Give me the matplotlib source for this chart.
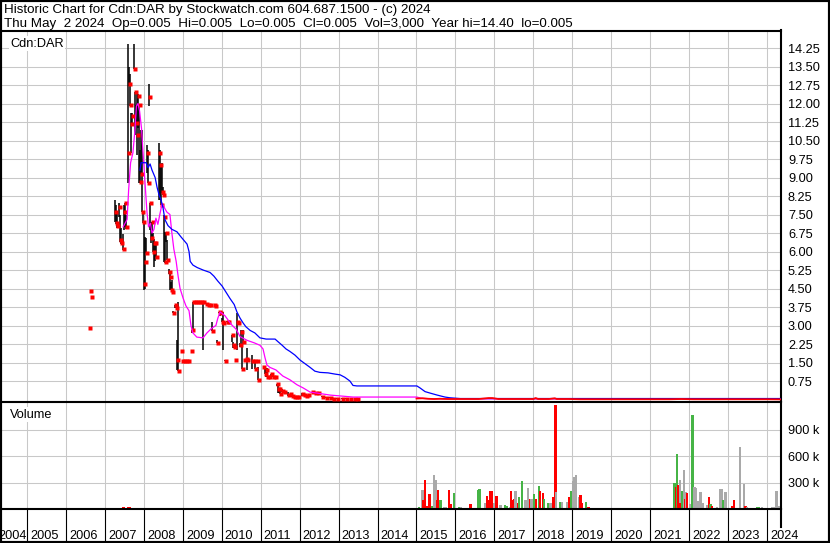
import numpy as np
import matplotlib.pyplot as plt
from matplotlib.patches import Rectangle

plt.rcParams['font.family'] = ['Liberation Sans', 'DejaVu Sans']

# weekly bars as (decimal year, high, low, close)
bars_2006 = [(2006.59, 2.90, 2.90, 2.90), (2006.62, 4.40, 4.40, 4.40), (2006.64, 4.15, 4.15, 4.15)]
bars_2007 = [
    (2007.26, 8.09, 7.20, 7.60), (2007.29, 7.90, 7.10, 7.17), (2007.31, 7.60, 6.95, 7.03),
    (2007.36, 7.96, 7.40, 7.80), (2007.39, 7.50, 6.40, 6.47), (2007.41, 6.95, 6.30, 6.34),
    (2007.47, 6.70, 6.05, 6.10), (2007.49, 7.88, 6.87, 7.60), (2007.52, 7.96, 7.00, 7.96),
    (2007.54, 7.50, 6.90, 7.00), (2007.59, 14.41, 8.78, 9.99), (2007.62, 13.50, 12.70, 12.79),
    (2007.65, 13.20, 11.90, 11.94), (2007.67, 11.60, 10.00, 11.15), (2007.70, 11.60, 11.10, 11.50),
    (2007.75, 14.41, 13.38, 13.38), (2007.77, 12.46, 10.72, 12.46), (2007.80, 11.94, 11.13, 11.20),
    (2007.82, 12.38, 9.90, 10.72), (2007.85, 12.38, 11.00, 12.30), (2007.88, 11.94, 8.78, 11.94),
    (2007.90, 10.10, 8.78, 8.82), (2007.93, 10.92, 9.14, 9.14), (2007.95, 10.92, 7.60, 7.60),
    (2007.98, 7.60, 7.15, 7.20),
]
bars_2008 = [
    (2008.00, 7.20, 4.44, 4.70), (2008.03, 6.60, 4.50, 5.59), (2008.06, 6.55, 5.94, 5.94),
    (2008.08, 10.30, 9.20, 9.99), (2008.11, 10.10, 8.78, 8.78), (2008.13, 12.79, 11.90, 12.27),
    (2008.16, 7.96, 6.87, 7.96), (2008.18, 7.20, 6.34, 6.55), (2008.21, 7.20, 6.60, 7.20),
    (2008.24, 6.75, 5.99, 5.99), (2008.26, 6.50, 5.37, 6.36), (2008.29, 6.36, 5.60, 6.36),
    (2008.31, 6.40, 5.79, 5.79), (2008.39, 10.40, 8.10, 9.99), (2008.42, 10.10, 8.10, 9.50),
    (2008.44, 9.50, 7.90, 7.90), (2008.47, 9.59, 8.37, 8.42), (2008.49, 8.60, 8.30, 8.30),
    (2008.52, 7.50, 5.59, 7.40), (2008.54, 6.80, 5.55, 5.59), (2008.57, 6.75, 6.40, 6.75),
    (2008.60, 6.47, 5.65, 5.65), (2008.65, 5.30, 5.10, 5.18), (2008.67, 5.10, 4.44, 4.98),
    (2008.70, 4.78, 4.44, 4.44), (2008.72, 4.84, 4.37, 4.37), (2008.75, 3.60, 3.50, 3.50),
    (2008.80, 3.83, 3.71, 3.83), (2008.83, 3.80, 3.71, 3.71), (2008.85, 2.41, 1.20, 1.60),
    (2008.88, 3.96, 1.17, 1.17), (2008.95, 1.98, 1.98, 1.98), (2008.98, 1.57, 1.57, 1.57),
]
bars_2009 = [
    (2009.03, 1.57, 1.57, 1.57), (2009.08, 1.57, 1.57, 1.57), (2009.13, 1.57, 1.57, 1.57),
    (2009.21, 1.98, 1.98, 1.98), (2009.24, 2.82, 2.70, 2.82), (2009.26, 3.96, 2.82, 3.96),
    (2009.31, 3.96, 3.96, 3.96), (2009.36, 3.96, 3.96, 3.96), (2009.42, 3.96, 3.96, 3.96),
    (2009.47, 3.96, 3.96, 3.96), (2009.52, 3.96, 2.01, 3.96), (2009.60, 3.90, 3.87, 3.87),
    (2009.65, 3.83, 3.83, 3.83), (2009.70, 3.83, 3.83, 3.83), (2009.75, 3.16, 2.79, 2.79),
    (2009.80, 3.83, 3.83, 3.83), (2009.83, 3.80, 3.79, 3.79), (2009.88, 2.40, 2.29, 2.29),
    (2009.93, 3.56, 3.50, 3.56), (2009.96, 3.56, 3.40, 3.50),
]
bars_2010 = [
    (2010.01, 3.30, 3.15, 3.15), (2010.03, 3.56, 2.01, 3.10), (2010.08, 1.60, 1.57, 1.57),
    (2010.14, 3.20, 3.15, 3.15), (2010.16, 3.15, 3.15, 3.15), (2010.26, 2.61, 2.34, 2.61),
    (2010.29, 2.34, 2.08, 2.21), (2010.32, 2.20, 2.08, 2.13), (2010.34, 1.60, 1.60, 1.60),
    (2010.39, 3.50, 2.01, 3.15), (2010.42, 3.11, 3.11, 3.11), (2010.47, 2.29, 2.13, 2.21),
    (2010.49, 2.82, 2.28, 2.75), (2010.52, 2.30, 1.22, 1.22), (2010.55, 2.82, 2.28, 2.34),
    (2010.57, 1.60, 1.60, 1.60), (2010.62, 1.63, 1.60, 1.63), (2010.65, 2.08, 1.20, 1.60),
    (2010.78, 1.80, 1.22, 1.57), (2010.83, 1.57, 1.57, 1.57), (2010.85, 1.57, 1.22, 1.22),
    (2010.91, 1.57, 1.57, 1.57), (2010.93, 1.33, 0.79, 0.79),
]
bars_2011 = [
    (2011.06, 1.33, 1.33, 1.33), (2011.11, 1.33, 1.03, 1.03), (2011.14, 1.26, 0.92, 1.20),
    (2011.16, 1.26, 0.92, 0.92), (2011.21, 0.92, 0.92, 0.92), (2011.27, 1.03, 0.92, 1.03),
    (2011.32, 0.99, 0.92, 0.92), (2011.37, 0.95, 0.91, 0.91), (2011.42, 0.62, 0.55, 0.62),
    (2011.44, 0.55, 0.25, 0.43), (2011.47, 0.43, 0.26, 0.43), (2011.50, 0.40, 0.22, 0.22),
    (2011.55, 0.43, 0.32, 0.35), (2011.60, 0.40, 0.32, 0.32), (2011.70, 0.32, 0.14, 0.20),
    (2011.75, 0.22, 0.15, 0.22), (2011.80, 0.20, 0.12, 0.15), (2011.86, 0.15, 0.11, 0.11),
    (2011.91, 0.15, 0.11, 0.11), (2011.96, 0.12, 0.11, 0.11),
]
bars_2012 = [
    (2012.06, 0.28, 0.14, 0.22), (2012.11, 0.22, 0.18, 0.18), (2012.16, 0.22, 0.14, 0.14),
    (2012.22, 0.18, 0.14, 0.18), (2012.32, 0.32, 0.25, 0.32), (2012.39, 0.30, 0.25, 0.25),
    (2012.47, 0.32, 0.25, 0.28), (2012.57, 0.15, 0.10, 0.10), (2012.68, 0.12, 0.08, 0.08),
    (2012.78, 0.11, 0.05, 0.05), (2012.86, 0.08, 0.03, 0.03), (2012.96, 0.06, 0.02, 0.02),
    (2013.09, 0.07, 0.03, 0.03), (2013.19, 0.05, 0.02, 0.02), (2013.29, 0.04, 0.01, 0.01),
    (2013.40, 0.03, 0.01, 0.01), (2013.47, 0.02, 0.01, 0.01),
]

# closes after 2015, sitting on the floor of the chart
tail_year = [2015.00, 2015.15, 2015.30, 2015.45, 2015.60, 2015.80, 2016.00, 2016.30, 2016.60,
             2016.85, 2016.95, 2017.10, 2017.40, 2017.70, 2018.00, 2018.06, 2018.12, 2018.40,
             2018.55, 2018.60, 2018.90, 2019.20, 2019.60, 2020.00, 2020.50, 2021.00, 2021.50,
             2021.80, 2022.10, 2022.50, 2023.00, 2023.50, 2024.00, 2024.36]
tail_close = [0.04, 0.05, 0.03, 0.02, 0.03, 0.02, 0.02, 0.02, 0.02,
              0.06, 0.06, 0.02, 0.02, 0.02, 0.02, 0.06, 0.02, 0.02,
              0.05, 0.02, 0.02, 0.01, 0.01, 0.01, 0.01, 0.01, 0.01,
              0.02, 0.01, 0.01, 0.01, 0.01, 0.01, 0.005]

# moving averages
ma_short_year = [2007.47, 2007.57, 2007.61, 2007.66, 2007.72, 2007.77, 2007.81, 2007.85, 2007.89,
                 2007.94, 2007.98, 2008.03, 2008.08, 2008.12, 2008.17, 2008.21, 2008.26, 2008.31,
                 2008.36, 2008.41, 2008.47, 2008.52, 2008.59, 2008.67, 2008.72, 2008.77, 2008.83,
                 2008.88, 2008.93, 2009.01, 2009.08, 2009.16, 2009.21, 2009.26, 2009.36, 2009.52,
                 2009.62, 2009.75, 2009.85, 2009.90, 2009.96, 2010.08, 2010.26, 2010.37, 2010.47,
                 2010.65, 2010.83, 2010.98, 2011.06, 2011.11, 2011.16, 2011.24, 2011.39, 2011.57,
                 2011.75, 2011.93, 2012.09, 2012.27, 2012.45, 2012.78, 2013.37, 2015.01, 2015.12,
                 2015.35, 2024.36]
ma_short = [7.0, 7.3, 8.5, 9.6, 10.0, 10.9, 11.9, 12.0, 11.7,
            11.0, 10.0, 8.8, 7.6, 7.0, 7.15, 6.75, 6.9, 7.35,
            7.1, 7.5, 7.95, 7.8, 7.6, 7.5, 6.75, 6.1, 5.6,
            5.0, 4.5, 4.1, 3.8, 3.6, 3.0, 2.7, 2.53, 2.5,
            2.7, 2.9, 3.0, 3.3, 3.55, 3.4, 3.02, 2.85, 2.55,
            2.4, 2.3, 2.2, 2.05, 1.7, 1.4, 1.3, 1.2, 0.95,
            0.8, 0.6, 0.47, 0.3, 0.26, 0.18, 0.1, 0.1, 0.05,
            0.03, 0.02]
ma_long_year = [2007.90, 2007.93, 2008.06, 2008.11, 2008.16, 2008.21, 2008.29, 2008.34, 2008.39,
                2008.44, 2008.49, 2008.54, 2008.62, 2008.72, 2008.85, 2008.95, 2009.03, 2009.11,
                2009.16, 2009.19, 2009.26, 2009.37, 2009.52, 2009.70, 2009.80, 2009.90, 2010.01,
                2010.11, 2010.21, 2010.32, 2010.39, 2010.47, 2010.55, 2010.62, 2010.73, 2010.85,
                2010.98, 2011.14, 2011.37, 2011.44, 2011.55, 2011.65, 2011.75, 2011.88, 2012.01,
                2012.14, 2012.27, 2012.39, 2012.52, 2012.73, 2012.91, 2013.04, 2013.16, 2013.29,
                2013.37, 2013.47, 2015.01, 2015.09, 2015.22, 2015.35, 2015.53, 2015.73, 2015.86,
                2016.12, 2024.36]
ma_long = [9.3, 9.6, 9.6, 9.4, 9.55, 9.3, 9.0, 8.6, 8.3,
           8.1, 7.8, 7.3, 7.05, 6.9, 6.8, 6.6, 6.45, 6.3,
           6.0, 5.6, 5.45, 5.35, 5.25, 5.15, 5.0, 4.8, 4.6,
           4.35, 4.1, 3.85, 3.55, 3.3, 3.1, 2.95, 2.8, 2.7,
           2.5, 2.45, 2.45, 2.35, 2.2, 2.05, 1.95, 1.8, 1.6,
           1.45, 1.3, 1.15, 1.1, 1.08, 1.03, 1.0, 0.9, 0.75,
           0.57, 0.55, 0.55, 0.47, 0.32, 0.26, 0.18, 0.1, 0.07,
           0.04, 0.04]

# weekly volume: u = up week, d = down week, f = unchanged
old_vol_year = [2006.60, 2006.64, 2007.27, 2007.33, 2007.40, 2007.47, 2007.55, 2007.62, 2007.70,
                2007.78, 2007.86, 2007.94, 2008.02, 2008.10, 2008.18, 2008.26, 2008.34, 2008.42,
                2008.50, 2008.58, 2008.66, 2008.76, 2008.86, 2008.96, 2009.10, 2009.25, 2009.40,
                2009.55, 2009.70, 2009.85, 2010.00, 2010.15, 2010.30, 2010.45, 2010.60, 2010.75,
                2010.90, 2011.05, 2011.20, 2011.40, 2011.55, 2011.70, 2011.85, 2012.05, 2012.20,
                2012.35, 2012.50, 2012.65, 2012.80, 2013.00, 2013.15, 2013.30]
old_vol = [18e3, 18e3, 18e3, 20e3, 18e3, 22e3, 20e3, 22e3, 20e3,
           18e3, 20e3, 18e3, 18e3, 18e3, 20e3, 18e3, 18e3, 20e3,
           18e3, 18e3, 18e3, 15e3, 15e3, 15e3, 18e3, 18e3, 18e3,
           18e3, 18e3, 18e3, 18e3, 18e3, 18e3, 18e3, 18e3, 18e3,
           18e3, 15e3, 15e3, 18e3, 18e3, 18e3, 15e3, 15e3, 18e3,
           18e3, 18e3, 18e3, 15e3, 18e3, 18e3, 15e3]
old_vol_dir = list('uuddudududdddudduddddfffddduddududdudffdddffdddddfddf')[:52]

vol_year = [2015.06, 2015.15, 2015.17, 2015.21, 2015.26, 2015.33, 2015.39, 2015.45, 2015.49,
            2015.53, 2015.56, 2015.62, 2015.70, 2015.76, 2015.83, 2015.89, 2015.96, 2016.09,
            2016.15, 2016.39, 2016.58, 2016.62, 2016.77, 2016.81, 2016.86, 2016.90, 2016.93,
            2016.99, 2017.05, 2017.16, 2017.28, 2017.33, 2017.40, 2017.43, 2017.47, 2017.51,
            2017.54, 2017.61, 2017.64, 2017.71, 2017.80, 2017.87, 2017.93, 2017.95, 2018.01,
            2018.07, 2018.14, 2018.17, 2018.25, 2018.27, 2018.38, 2018.44, 2018.51, 2018.57,
            2018.59, 2018.68, 2018.74, 2018.87, 2018.91, 2018.97, 2019.01, 2019.04, 2019.10,
            2019.17, 2019.21, 2019.25, 2019.36, 2019.42, 2021.62, 2021.66, 2021.69, 2021.72,
            2021.76, 2021.78, 2021.82, 2021.86, 2021.89, 2021.92, 2021.95, 2022.03, 2022.09,
            2022.14, 2022.18, 2022.23, 2022.29, 2022.34, 2022.45, 2022.51, 2022.55, 2022.59,
            2022.72, 2022.80, 2022.85, 2022.87, 2022.93, 2023.10, 2023.15, 2023.30, 2023.40,
            2023.45, 2023.49, 2023.75, 2023.79, 2023.87, 2024.14, 2024.20, 2024.24, 2024.30]
vol_k = [23, 223, 106, 332, 38, 174, 38, 389, 332,
         106, 219, 106, 23, 23, 219, 60, 181, 23,
         30, 60, 219, 230, 68, 151, 106, 211, 208,
         68, 151, 45, 45, 38, 30, 211, 106, 113,
         211, 68, 143, 321, 106, 242, 113, 113, 170,
         113, 264, 208, 181, 113, 68, 68, 136, 1181,
         196, 87, 87, 87, 143, 211, 325, 362, 389,
         136, 162, 68, 87, 23, 302, 249, 626, 276,
         332, 68, 211, 445, 113, 200, 181, 60, 1068,
         249, 238, 98, 200, 68, 45, 143, 60, 38,
         30, 226, 226, 106, 200, 38, 106, 706, 287,
         38, 30, 23, 23, 30, 23, 23, 211, 38]
vol_dir = ['u', 'f', 'd', 'd', 'd', 'd', 'u', 'f', 'f',
           'd', 'd', 'u', 'f', 'f', 'd', 'd', 'u', 'u',
           'f', 'd', 'u', 'u', 'f', 'd', 'd', 'd', 'd',
           'f', 'd', 'f', 'u', 'u', 'f', 'd', 'd', 'd',
           'f', 'd', 'u', 'u', 'f', 'f', 'd', 'f', 'u',
           'd', 'u', 'd', 'd', 'u', 'u', 'f', 'd', 'd',
           'f', 'u', 'f', 'f', 'd', 'u', 'f', 'f', 'f',
           'f', 'd', 'd', 'u', 'd', 'u', 'd', 'u', 'd',
           'f', 'd', 'u', 'f', 'd', 'f', 'd', 'f', 'u',
           'f', 'f', 'f', 'f', 'f', 'f', 'd', 'u', 'd',
           'f', 'f', 'f', 'u', 'f', 'd', 'd', 'f', 'f',
           'd', 'f', 'u', 'u', 'f', 'f', 'f', 'f', 'f']

price_ticks = np.arange(0.75, 14.26, 0.75)
vol_ticks = [300e3, 600e3, 900e3]
year_labels = list(range(2004, 2025))

header1 = "Historic Chart for Cdn:DAR by Stockwatch.com 604.687.1500 - (c) 2024"
header2 = ("Thu May  2 2024  Op=0.005  Hi=0.005  Lo=0.005  Cl=0.005  "
           "Vol=3,000  Year hi=14.40  lo=0.005")

W, H = 830, 543
X0, X1 = 2004.333, 2024.358
GRID = '#c8c8c8'
DIR_COLORS = {'u': '#46b446', 'd': '#ff0000', 'f': '#a9a9a9'}


def px_rect(x0, y0, x1, y1):
    return [x0 / W, 1 - y1 / H, (x1 - x0) / W, (y1 - y0) / H]


fig = plt.figure(figsize=(W / 100, H / 100), dpi=100)
ax = fig.add_axes(px_rect(1, 30.5, 781, 400.5))
axv = fig.add_axes(px_rect(1, 402, 781, 509.3))
axd = fig.add_axes(px_rect(1, 509.3, 781, 541))

# price panel
bars = bars_2006 + bars_2007 + bars_2008 + bars_2009 + bars_2010 + bars_2011 + bars_2012
by, bh, bl, bc = zip(*bars)
ax.vlines(by, bl, bh, color='black', lw=1.1, zorder=2)
ax.plot([y + 0.02 for y in by], bc, ls='none', marker='s', ms=2.3, mfc='red', mec='none', zorder=3)
ax.plot(ma_short_year, ma_short, color='#ff00ff', lw=0.9, zorder=4)
ax.plot(ma_long_year, ma_long, color='#0000ff', lw=0.9, zorder=5)
ax.plot(tail_year, tail_close, color='red', lw=1.3, zorder=6)

ax.set_xlim(X0, X1)
ax.set_ylim(-0.04, 14.96)
ax.set_xticks(range(2005, 2025))
ax.set_yticks(price_ticks)
ax.set_yticklabels(['%.2f' % t for t in price_ticks])
ax.yaxis.tick_right()
ax.tick_params(axis='y', length=0, pad=5, labelsize=9.2)
ax.tick_params(axis='x', length=0, labelbottom=False)
ax.grid(color=GRID, lw=0.75)
ax.set_axisbelow(True)
ax.spines['left'].set_visible(False)
ax.spines['top'].set_linewidth(1.5)
ax.spines['right'].set_linewidth(1.5)
ax.spines['bottom'].set_linewidth(0.8)
fig.text(10 / W, 1 - 46.5 / H, 'Cdn:DAR', fontsize=9.2, va='baseline',
         bbox=dict(facecolor='white', edgecolor='none', pad=1))

# volume panel
axv.bar(old_vol_year, old_vol, width=0.08, color=[DIR_COLORS[d] for d in old_vol_dir], zorder=2)
axv.bar(vol_year, [v * 1e3 for v in vol_k], width=0.06,
        color=[DIR_COLORS[d] for d in vol_dir], zorder=2)
axv.set_xlim(X0, X1)
axv.set_ylim(0, 1215e3)
axv.set_xticks(range(2005, 2025))
axv.set_yticks(vol_ticks)
axv.set_yticklabels(['%d k' % (v / 1e3) for v in vol_ticks])
axv.yaxis.tick_right()
axv.tick_params(axis='y', length=0, pad=5, labelsize=9.2)
axv.tick_params(axis='x', length=0, labelbottom=False)
axv.grid(color=GRID, lw=0.75)
axv.set_axisbelow(True)
axv.spines['left'].set_visible(False)
axv.spines['top'].set_linewidth(0.8)
axv.spines['right'].set_linewidth(1.5)
axv.spines['bottom'].set_linewidth(1.5)
fig.text(10 / W, 1 - 417.5 / H, 'Volume', fontsize=9.2, va='baseline',
         bbox=dict(facecolor='white', edgecolor='none', pad=1))

# year strip
axd.set_xlim(X0, X1)
axd.set_ylim(0, 1)
axd.axis('off')
for yr in year_labels:
    if yr > X0:
        axd.axvline(yr, color='black', lw=0.8)
    axd.text(max(yr + 0.08, X0 - 0.06), 0.06, str(yr), fontsize=9.2, ha='left', va='baseline')
axd.plot([X1, X1], [0.44, 1], color='black', lw=1.5, clip_on=False)

# header
fig.text(4 / W, 1 - 12.5 / H, header1, fontsize=9.6, va='baseline')
fig.text(4 / W, 1 - 26.5 / H, header2, fontsize=9.6, va='baseline')

fig.add_artist(Rectangle((0, 0), 1, 1, transform=fig.transFigure, fill=False,
                         lw=3, ec='black'))

fig.savefig('out.png', dpi=100)
